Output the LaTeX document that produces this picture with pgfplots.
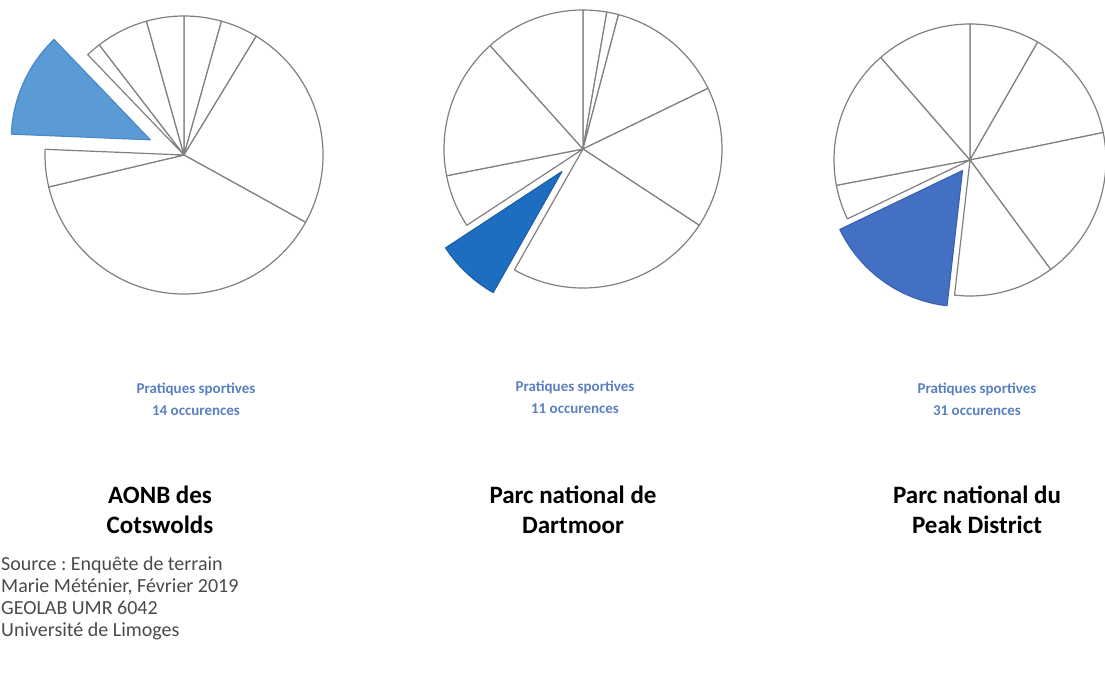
\documentclass[border=0pt]{standalone}
\usepackage{pgfplots}
\pgfplotsset{compat=1.18}
\usepackage{pgfplotstable}
\usepackage{fontspec}
\setmainfont{Carlito}
\frenchspacing
\definecolor{pieA}{HTML}{5B9BD5}
\definecolor{pieAd}{HTML}{4A88C8}
\definecolor{pieB}{HTML}{1F6DC0}
\definecolor{pieBd}{HTML}{1A5FAA}
\definecolor{pieC}{HTML}{4470C4}
\definecolor{pieCd}{HTML}{3A62B0}
\definecolor{edge}{HTML}{808080}
\definecolor{lab}{HTML}{5A80C0}
\definecolor{src}{HTML}{4A4A4A}

% value, explode offset (px), fill, draw -- clockwise from 12 o'clock
\pgfplotstableread{
v ex fc dc
5 0 white edge
5 0 white edge
28 0 white edge
44 0 white edge
5 0 white edge
14 37 pieA pieAd
2 0 white edge
7 0 white edge
5 0 white edge
}\cotswolds

\pgfplotstableread{
v ex fc dc
4 0 white edge
2 0 white edge
20 0 white edge
24 0 white edge
35 0 white edge
11 31 pieB pieBd
9 0 white edge
24 0 white edge
17 0 white edge
}\dartmoor

\pgfplotstableread{
v ex fc dc
16 0 white edge
26 0 white edge
35 0 white edge
23 0 white edge
31 13 pieC pieCd
8 0 white edge
32 0 white edge
22 0 white edge
}\peak

\newcommand\pieslices[2]{%
  \pgfplotsextra{%
    \pgfplotstablegetrowsof{#1}%
    \pgfmathtruncatemacro\nlast{\pgfplotsretval-1}%
    \gdef\pietotal{0}%
    \foreach \r in {0,...,\nlast}{%
      \pgfplotstablegetelem{\r}{v}\of{#1}%
      \pgfmathsetmacro\tmp{\pietotal+\pgfplotsretval}%
      \xdef\pietotal{\tmp}}%
    \gdef\pieang{90}%
    \foreach \r in {0,...,\nlast}{%
      \pgfplotstablegetelem{\r}{v}\of{#1}\let\pv\pgfplotsretval
      \pgfplotstablegetelem{\r}{ex}\of{#1}\let\pex\pgfplotsretval
      \pgfplotstablegetelem{\r}{fc}\of{#1}\let\pfc\pgfplotsretval
      \pgfplotstablegetelem{\r}{dc}\of{#1}\let\pdc\pgfplotsretval
      \pgfmathsetmacro\pa{\pieang}%
      \pgfmathsetmacro\pb{\pieang-360*\pv/\pietotal}%
      \pgfmathsetmacro\pmid{(\pa+\pb)/2}%
      \path (axis cs:0,0) ++(\pmid:\pex pt) coordinate (pc);
      \filldraw[fill=\pfc, draw=\pdc, line width=1.2pt, line join=round]
        (pc) -- ++(\pa:#2 pt) arc[start angle=\pa, end angle=\pb, radius=#2 pt] -- cycle;
      \xdef\pieang{\pb}%
    }%
  }%
}

\pgfplotsset{pieaxis/.style={anchor=center, x=1pt, y=1pt,
  xmin=-150, xmax=150, ymin=-150, ymax=150, hide axis, clip=false}}

\begin{document}
\begin{tikzpicture}
\useasboundingbox (0,0) rectangle (1105pt,-677pt);
\begin{axis}[pieaxis, at={(184pt,-155pt)}]
  \pieslices{\cotswolds}{139}
\end{axis}
\begin{axis}[pieaxis, at={(583pt,-149pt)}]
  \pieslices{\dartmoor}{139}
\end{axis}
\begin{axis}[pieaxis, at={(970pt,-160pt)}]
  \pieslices{\peak}{136}
\end{axis}

\tikzset{lbl/.style={text=lab, font=\bfseries\fontsize{15}{22}\selectfont, align=center},
         ttl/.style={text=black, font=\bfseries\fontsize{25}{30}\selectfont, align=center}}
\node[lbl] at (196pt,-399pt) {Pratiques sportives\\14 occurences};
\node[lbl] at (575pt,-397pt) {Pratiques sportives\\11 occurences};
\node[lbl] at (977pt,-399pt) {Pratiques sportives\\31 occurences};
\node[ttl] at (160pt,-510pt) {AONB des\\Cotswolds};
\node[ttl] at (573pt,-510pt) {Parc national de\\Dartmoor};
\node[ttl] at (977pt,-510pt) {Parc national du\\Peak District};
\node[anchor=north west, inner sep=0pt, text=src, align=left,
      font=\fontsize{20}{22}\selectfont] at (1pt,-556pt)
  {Source : Enquête de terrain\\Marie Méténier, Février 2019\\GEOLAB UMR 6042\\Université de Limoges};
\end{tikzpicture}
\end{document}
